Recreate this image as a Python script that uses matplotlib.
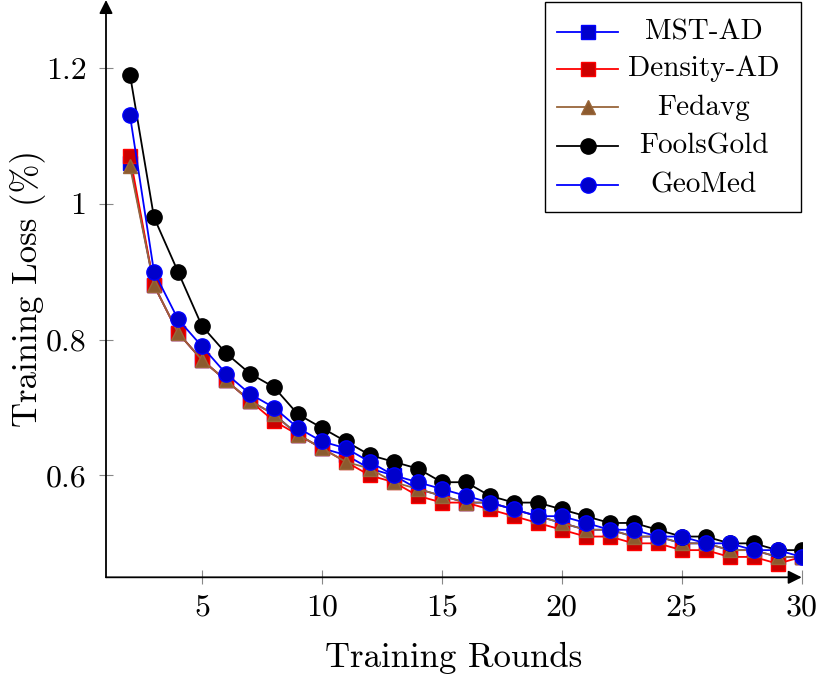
import numpy as np
import matplotlib
matplotlib.use("Agg")
import matplotlib.pyplot as plt
from matplotlib.lines import Line2D
from matplotlib.patches import Rectangle
from matplotlib.ticker import FuncFormatter

plt.rcParams['font.family'] = ['cmr10', 'DejaVu Sans']
plt.rcParams['mathtext.fontset'] = 'cm'
plt.rcParams['axes.unicode_minus'] = False

# data
rounds = list(range(2, 31))
mst_ad = [1.06, 0.88, 0.81, 0.77, 0.74, 0.71, 0.69, 0.66, 0.64, 0.63, 0.61, 0.60, 0.58, 0.57, 0.56,
          0.56, 0.55, 0.54, 0.53, 0.52, 0.52, 0.51, 0.51, 0.50, 0.50, 0.49, 0.49, 0.48, 0.48]
density_ad = [1.07, 0.88, 0.81, 0.77, 0.74, 0.71, 0.68, 0.66, 0.64, 0.62, 0.60, 0.59, 0.57, 0.56, 0.56,
              0.55, 0.54, 0.53, 0.52, 0.51, 0.51, 0.50, 0.50, 0.49, 0.49, 0.48, 0.48, 0.47, 0.48]
fedavg = [1.055, 0.88, 0.81, 0.77, 0.74, 0.71, 0.69, 0.66, 0.64, 0.62, 0.61, 0.59, 0.58, 0.57, 0.56,
          0.56, 0.55, 0.54, 0.53, 0.52, 0.52, 0.51, 0.51, 0.50, 0.50, 0.49, 0.49, 0.48, 0.48]
foolsgold = [1.19, 0.98, 0.90, 0.82, 0.78, 0.75, 0.73, 0.69, 0.67, 0.65, 0.63, 0.62, 0.61, 0.59, 0.59,
             0.57, 0.56, 0.56, 0.55, 0.54, 0.53, 0.53, 0.52, 0.51, 0.51, 0.50, 0.50, 0.49, 0.49]
geomed = [1.13, 0.90, 0.83, 0.79, 0.75, 0.72, 0.70, 0.67, 0.65, 0.64, 0.62, 0.60, 0.59, 0.58, 0.57,
          0.56, 0.55, 0.54, 0.54, 0.53, 0.52, 0.52, 0.51, 0.51, 0.50, 0.50, 0.49, 0.49, 0.48]

labels = ['MST-AD', 'Density-AD', 'Fedavg', 'FoolsGold', 'GeoMed']
series = [mst_ad, density_ad, fedavg, foolsgold, geomed]
styles = [
    dict(color='#0000ff', marker='s', ms=10.5, mfc='#0000cc', mec='#0000ff'),
    dict(color='#ff0000', marker='s', ms=10.5, mfc='#cc0000', mec='#ff0000'),
    dict(color='#99663a', marker='^', ms=10, mfc='#8c5a2e', mec='#99663a'),
    dict(color='black', marker='o', ms=11, mfc='black', mec='black'),
    dict(color='#0000ff', marker='o', ms=11, mfc='#0000cc', mec='#0000ff'),
]

W, H = 831, 688
fig = plt.figure(figsize=(W / 100, H / 100), dpi=100)
ax = fig.add_axes([106 / W, 1 - 577.3 / H, (801.7 - 106) / W, 577.3 / H])

for y, lab, st in zip(series, labels, styles):
    ax.plot(rounds, y, lw=1.3, mew=1, label=lab, **st)

ax.set_xlim(1, 30)
ax.set_ylim(0.45, 1.30)
ax.set_xticks([5, 10, 15, 20, 25, 30])
ax.set_yticks([0.6, 0.8, 1.0, 1.2])
ax.yaxis.set_major_formatter(FuncFormatter(lambda v, p: '%g' % round(v, 2)))
ax.tick_params(direction='inout', length=10, width=0.8, color='#888888',
               labelsize=23, labelcolor='black')
ax.tick_params(axis='x', pad=7)
ax.tick_params(axis='y', pad=9)
for s in ['top', 'right', 'left', 'bottom']:
    ax.spines[s].set_visible(False)

# axis lines with arrow heads
ax.annotate('', xy=(1.0, 0), xytext=(0, 0), xycoords='axes fraction',
            arrowprops=dict(arrowstyle='-|>', lw=1.3, color='black', mutation_scale=20,
                            shrinkA=0, shrinkB=0))
ax.annotate('', xy=(0, 1.0), xytext=(0, 0), xycoords='axes fraction',
            arrowprops=dict(arrowstyle='-|>', lw=1.3, color='black', mutation_scale=20,
                            shrinkA=0, shrinkB=0))

ax.set_xlabel('Training Rounds', fontsize=25, labelpad=15)
ax.set_ylabel('Training Loss (%)', fontsize=25, labelpad=0)

# legend box, entries centred like pgfplots
def fx(px):
    return px / W

def fy(py):
    return 1 - py / H

fig.add_artist(Rectangle((fx(545), fy(212)), fx(801) - fx(545), fy(2) - fy(212),
                         transform=fig.transFigure, fill=True, facecolor='white',
                         edgecolor='black', lw=1.0, zorder=5))
rows = [32, 68.5, 107, 146, 184.5]
for r, lab, st in zip(rows, labels, styles):
    fig.add_artist(Line2D([fx(557), fx(618)], [fy(r), fy(r)], transform=fig.transFigure,
                          color=st['color'], lw=1.3, zorder=6))
    fig.add_artist(Line2D([fx(588)], [fy(r)], transform=fig.transFigure, ls='none',
                          marker=st['marker'], ms=st['ms'], mfc=st['mfc'], mec=st['mec'],
                          mew=1, zorder=7))
    fig.text(fx(704), fy(r + 8), lab, ha='center', va='baseline', fontsize=21, zorder=7)

fig.savefig('out.png', dpi=100)
